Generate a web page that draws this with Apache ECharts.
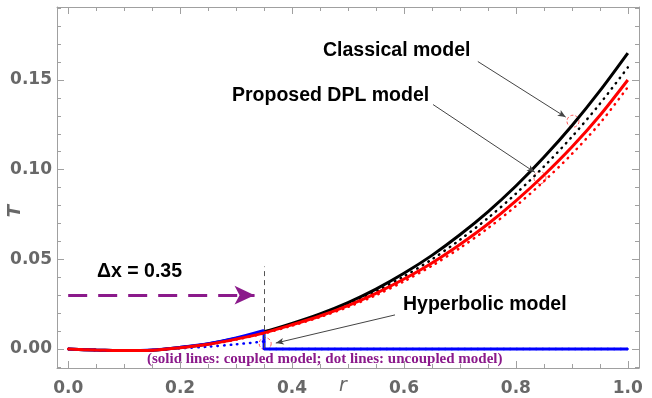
<!DOCTYPE html>
<html>
<head>
<meta charset="utf-8">
<script src="https://cdn.jsdelivr.net/npm/echarts@6/dist/echarts.min.js"></script>
<style>
  html, body { margin: 0; padding: 0; background: #fff; }
  #chart { width: 652px; height: 398px; }
</style>
</head>
<body>
<div id="chart"></div>
<script>
// Radial coordinate samples
const rGrid = [0, 0.05, 0.1, 0.15, 0.2, 0.25, 0.3, 0.35, 0.4, 0.45, 0.5,
               0.55, 0.6, 0.65, 0.7, 0.75, 0.8, 0.85, 0.9, 0.95, 1.0];

// Temperature T(r) for each model (coupled = solid, uncoupled = dotted)
const classicalCoupled   = [0, -0.0006, -0.0009, -0.0007, 0.0008, 0.0028, 0.0058, 0.0096, 0.0143, 0.0196, 0.0259,
                            0.0334, 0.0422, 0.0522, 0.0637, 0.0765, 0.0909, 0.1069, 0.1245, 0.1439, 0.1650];
const classicalUncoupled = [0, -0.0006, -0.0009, -0.0007, 0.0008, 0.0027, 0.0057, 0.0094, 0.0139, 0.0190, 0.0250,
                            0.0321, 0.0405, 0.0500, 0.0609, 0.0730, 0.0866, 0.1017, 0.1183, 0.1367, 0.1570];
const dplCoupled         = [0, -0.0006, -0.0009, -0.0007, 0.0007, 0.0026, 0.0055, 0.0090, 0.0135, 0.0184, 0.0242,
                            0.0310, 0.0390, 0.0480, 0.0583, 0.0697, 0.0826, 0.0969, 0.1126, 0.1302, 0.1500];
const dplUncoupled       = [0, -0.0006, -0.0009, -0.0007, 0.0006, 0.0024, 0.0052, 0.0087, 0.0130, 0.0178, 0.0234,
                            0.0300, 0.0377, 0.0464, 0.0563, 0.0673, 0.0797, 0.0935, 0.1087, 0.1258, 0.1460];

// Hyperbolic model: heated region up to the wave front, zero beyond it
const rHypCurve          = [0, 0.05, 0.1, 0.15, 0.2, 0.25, 0.3, 0.35];
const hypCoupledCurve    = [0, -0.0006, -0.0009, -0.0006, 0.0009, 0.0029, 0.0061, 0.0103];
const hypUncoupledCurve  = [0, -0.0006, -0.0009, -0.0006, 0.0004, 0.0013, 0.0026, 0.0042];
const rHypFront          = [0.35, 0.35, 1.0];
const hypCoupledFront    = [0.0103, 0, 0];
const hypUncoupledFront  = [0.0042, 0, 0];

// Wave front position and tick marks
const frontPosition = 0.35;
const xMajorTicks = [0, 0.2, 0.4, 0.6, 0.8, 1.0];
const xMinorTicks = [0.05, 0.1, 0.15, 0.25, 0.3, 0.35, 0.45, 0.5, 0.55, 0.65, 0.7, 0.75, 0.85, 0.9, 0.95];
const yMajorTicks = [0, 0.05, 0.1, 0.15];
const yMinorTicks = [-0.01, 0.01, 0.02, 0.03, 0.04, 0.06, 0.07, 0.08, 0.09, 0.11, 0.12, 0.13, 0.14, 0.16, 0.17, 0.18, 0.19];

// Dashed circles marking where the callouts point
const calloutCircles = [[0.902, 0.127], [0.843, 0.0955], [0.352, 0.003]];

const pairs = (xs, ys) => xs.map((x, i) => [x, ys[i]]);

const X_MIN = -0.02, X_MAX = 1.02, Y_MIN = -0.0106, Y_MAX = 0.1907;
const frameColor = '#a0a0a0';
const labelColor = '#686868';

function xAxisDef(pos, ticks, len, showLine, labels) {
  return {
    type: 'value', position: pos, min: X_MIN, max: X_MAX,
    splitLine: { show: false },
    axisLine: { show: showLine, onZero: false, lineStyle: { color: frameColor, width: 1 } },
    axisTick: { show: true, inside: true, length: len, customValues: ticks, lineStyle: { color: frameColor } },
    axisLabel: labels ? {
      show: true, customValues: xMajorTicks, margin: 12,
      formatter: v => v.toFixed(1),
      color: labelColor, fontFamily: 'DejaVu Sans', fontWeight: 'bold', fontSize: 17
    } : { show: false }
  };
}
function yAxisDef(pos, ticks, len, showLine, labels) {
  return {
    type: 'value', position: pos, min: Y_MIN, max: Y_MAX,
    splitLine: { show: false },
    axisLine: { show: showLine, onZero: false, lineStyle: { color: frameColor, width: 1 } },
    axisTick: { show: true, inside: true, length: len, customValues: ticks, lineStyle: { color: frameColor } },
    axisLabel: labels ? {
      show: true, customValues: yMajorTicks, margin: 5,
      formatter: v => v.toFixed(2),
      color: labelColor, fontFamily: 'DejaVu Sans', fontWeight: 'bold', fontSize: 17
    } : { show: false }
  };
}

const chart = echarts.init(document.getElementById('chart'), null, { renderer: 'canvas' });

const annotationLine = { color: '#444', width: 1, type: 'solid' };
const calloutFont = 'bold 19.5px "Liberation Sans", Arial, sans-serif';

chart.setOption({
  animation: false,
  backgroundColor: '#fff',
  grid: { left: 57, right: 13, top: 7, bottom: 30, containLabel: false, outerBoundsMode: 'none' },
  xAxis: [
    xAxisDef('bottom', xMajorTicks, 7, true, true),
    xAxisDef('bottom', xMinorTicks, 4, false, false),
    xAxisDef('top', xMajorTicks, 7, true, false),
    xAxisDef('top', xMinorTicks, 4, false, false)
  ],
  yAxis: [
    yAxisDef('left', yMajorTicks, 7, true, true),
    yAxisDef('left', yMinorTicks, 4, false, false),
    yAxisDef('right', yMajorTicks, 7, true, false),
    yAxisDef('right', yMinorTicks, 4, false, false)
  ],
  series: [
    {
      name: 'Classical (coupled)', type: 'line', smooth: 0.3, showSymbol: false,
      data: pairs(rGrid, classicalCoupled),
      lineStyle: { color: '#000', width: 3 }
    },
    {
      name: 'Classical (uncoupled)', type: 'line', smooth: 0.3, showSymbol: false,
      data: pairs(rGrid, classicalUncoupled),
      lineStyle: { color: '#000', width: 2.5, type: [0.5, 6], cap: 'round' }
    },
    {
      name: 'Hyperbolic (uncoupled)', type: 'line', smooth: 0.3, showSymbol: false,
      data: pairs(rHypCurve, hypUncoupledCurve),
      lineStyle: { color: '#0000ff', width: 2.5, type: [0.5, 6], cap: 'round' }
    },
    {
      name: 'Hyperbolic (uncoupled) front', type: 'line', showSymbol: false,
      data: pairs(rHypFront, hypUncoupledFront),
      lineStyle: { color: '#0000ff', width: 2.5, type: [0.5, 6], cap: 'round' }
    },
    {
      name: 'Hyperbolic (coupled)', type: 'line', smooth: 0.3, showSymbol: false,
      data: pairs(rHypCurve, hypCoupledCurve),
      lineStyle: { color: '#0000ff', width: 3 }
    },
    {
      name: 'Hyperbolic (coupled) front', type: 'line', showSymbol: false,
      data: pairs(rHypFront, hypCoupledFront),
      lineStyle: { color: '#0000ff', width: 3 }
    },
    {
      name: 'DPL (uncoupled)', type: 'line', smooth: 0.3, showSymbol: false,
      data: pairs(rGrid, dplUncoupled),
      lineStyle: { color: '#ff0000', width: 2.5, type: [0.5, 6], cap: 'round' }
    },
    {
      name: 'DPL (coupled)', type: 'line', smooth: 0.3, showSymbol: false,
      data: pairs(rGrid, dplCoupled),
      lineStyle: { color: '#ff0000', width: 3 },
      markLine: {
        silent: true, animation: false, label: { show: false },
        data: [
          // wave front marker
          [{ coord: [frontPosition, 0.0005], symbol: 'none', lineStyle: { color: '#555', width: 1, type: [5, 4] } },
           { coord: [frontPosition, 0.046], symbol: 'none' }],
          // Δx arrow (symbol is centred on its end point, so stop short of the front)
          [{ coord: [0, 0.03], symbol: 'none', lineStyle: { color: '#8b1a8b', width: 3, type: [19, 11] } },
           { coord: [frontPosition - 0.017, 0.03], symbol: 'arrow', symbolSize: [14, 20] }],
          // callout arrows
          [{ coord: [0.732, 0.1603], symbol: 'none', lineStyle: annotationLine },
           { coord: [0.889, 0.1293], symbol: 'arrow', symbolSize: [5, 8] }],
          [{ coord: [0.652, 0.1363], symbol: 'none', lineStyle: annotationLine },
           { coord: [0.834, 0.0985], symbol: 'arrow', symbolSize: [5, 8] }],
          [{ coord: [0.584, 0.0190], symbol: 'none', lineStyle: annotationLine },
           { coord: [0.371, 0.0033], symbol: 'arrow', symbolSize: [5, 8] }]
        ]
      }
    },
    {
      name: 'callout circles', type: 'scatter', symbol: 'circle', symbolSize: 12,
      data: calloutCircles,
      itemStyle: { color: 'rgba(0,0,0,0)', borderColor: '#ff3030', borderWidth: 1, borderType: [3, 2] },
      silent: true
    }
  ],
  graphic: [
    { type: 'text', left: 323, top: 41, style: { text: 'Classical model', fill: '#000', font: calloutFont } },
    { type: 'text', left: 232, top: 86, style: { text: 'Proposed DPL model', fill: '#000', font: calloutFont } },
    { type: 'text', left: 403, top: 295, style: { text: 'Hyperbolic model', fill: '#000', font: calloutFont } },
    { type: 'text', left: 97, top: 262, style: { text: 'Δx = 0.35', fill: '#000', font: calloutFont } },
    { type: 'text', left: 147, top: 352, style: { text: '(solid lines: coupled model; dot lines: uncoupled model)',
      fill: '#8b1a8b', font: 'bold 15px "Liberation Serif", "Times New Roman", serif' } },
    // axis names
    { type: 'text', x: 343, y: 386, style: { text: 'r', fill: labelColor,
      font: 'italic 19px "DejaVu Sans", sans-serif', align: 'center', verticalAlign: 'middle' } },
    { type: 'text', x: 15, y: 211, rotation: Math.PI / 2, style: { text: 'T', fill: labelColor,
      font: 'italic bold 18px "DejaVu Sans", sans-serif', align: 'center', verticalAlign: 'middle' } }
  ]
});
</script>
</body>
</html>
